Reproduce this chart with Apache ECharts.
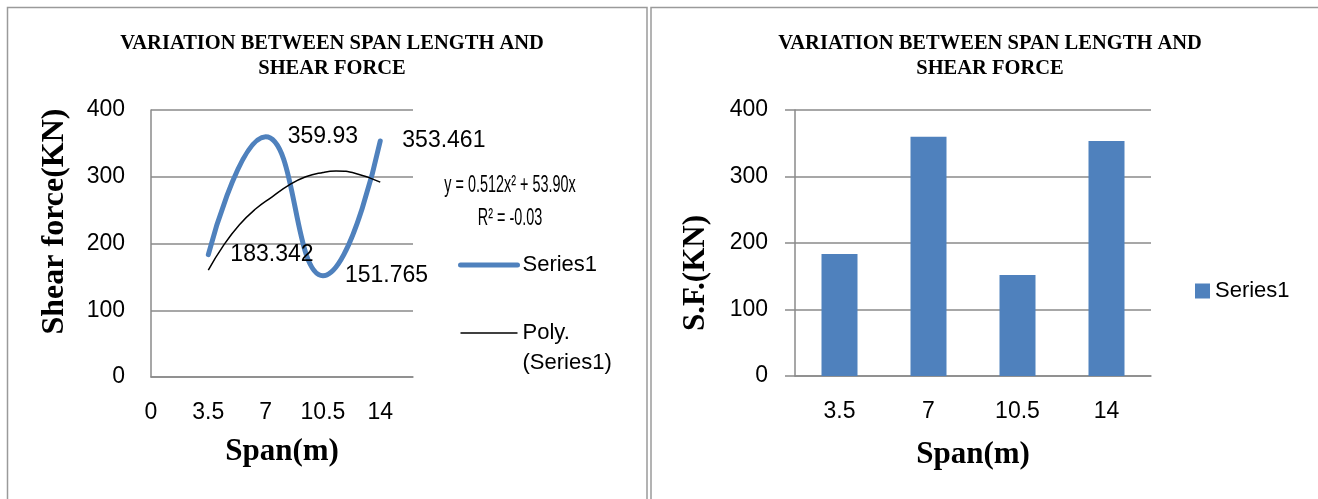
<!DOCTYPE html>
<html>
<head>
<meta charset="utf-8">
<script src="https://cdn.jsdelivr.net/npm/echarts@6/dist/echarts.min.js"></script>
<style>
html,body{margin:0;padding:0;background:#fff;}
#main{width:1318px;height:499px;}
</style>
</head>
<body>
<div id="main"></div>
<script>
// ---- data ----
const spanCategories = ['3.5', '7', '10.5', '14'];
const spanValues = [3.5, 7, 10.5, 14];
const shearForce = [183.342, 359.93, 151.765, 353.461];
// polynomial trendline (x, y)
const trendX = [3.5, 4.4, 5.4, 6.4, 7.4, 8.4, 9.45, 10.5, 11.3, 12.5, 14];
const trendY = [160, 196, 228, 252, 270, 287, 300, 306.5, 308.5, 305, 292];
const yTicks = [0, 100, 200, 300, 400];
const xTicksLeft = [0, 3.5, 7, 10.5, 14];
const titleText = 'VARIATION BETWEEN SPAN LENGTH AND\nSHEAR FORCE';
const equationText = 'y = 0.512x\u00b2 + 53.90x';
const r2Text = 'R\u00b2 = -0.03';

const SERIF = "'Liberation Serif','Times New Roman',serif";
const SANS = "'Liberation Sans',Arial,sans-serif";
const GRID = '#8a8a8a';
const BLUE = '#4f81bd';

const lineData = spanValues.map((x, i) => [x, shearForce[i]]);
const trendData = trendX.map((x, i) => [x, trendY[i]]);

const chart = echarts.init(document.getElementById('main'), null, {renderer: 'canvas'});

const option = {
  backgroundColor: '#fff',
  animation: false,
  title: [
    {text: titleText, left: 327, top: 26, textAlign: 'center',
     textStyle: {fontFamily: SERIF, fontWeight: 'bold', fontSize: 20.5, lineHeight: 25, color: '#000'}},
    {text: titleText, left: 985, top: 26, textAlign: 'center',
     textStyle: {fontFamily: SERIF, fontWeight: 'bold', fontSize: 20.5, lineHeight: 25, color: '#000'}}
  ],
  grid: [
    {left: 151, top: 110, width: 262, height: 267, containLabel: false},
    {left: 795, top: 110, width: 356, height: 266, containLabel: false}
  ],
  legend: [
    {
      orient: 'vertical', left: 458, top: 250, itemGap: 8, padding: 0,
      itemWidth: 57, itemHeight: 10,
      itemStyle: {opacity: 0},
      data: [
        {name: 'Series1', lineStyle: {width: 5, color: BLUE}},
        {name: 'Poly. (Series1)', lineStyle: {width: 1.5, color: '#000'}}
      ],
      formatter: function (n) { return n === 'Series1' ? 'Series1' : '\u00a0\nPoly.\n(Series1)'; },
      textStyle: {fontFamily: SANS, fontSize: 22, lineHeight: 30, color: '#000'}
    },
    {
      orient: 'vertical', left: 1195, top: 276, padding: 0,
      itemWidth: 15, itemHeight: 15, icon: 'rect',
      data: [{name: 'Series1 '}],
      formatter: function () { return 'Series1'; },
      textStyle: {fontFamily: SANS, fontSize: 22, lineHeight: 30, color: '#000'}
    }
  ],
  xAxis: [
    {
      type: 'value', gridIndex: 0, min: 0, max: 16, interval: 3.5,
      axisLine: {show: true, lineStyle: {color: GRID, width: 1.5}},
      axisTick: {show: false},
      splitLine: {show: false},
      axisLabel: {showMaxLabel: false, margin: 24, fontFamily: SANS, fontSize: 23, color: '#000',
        formatter: function (v) { return xTicksLeft.indexOf(v) >= 0 ? String(v) : ''; }}
    },
    {
      type: 'category', gridIndex: 1, data: spanCategories,
      axisLine: {show: true, lineStyle: {color: GRID, width: 1.5}},
      axisTick: {show: false},
      axisLabel: {margin: 24, fontFamily: SANS, fontSize: 23, color: '#000'}
    }
  ],
  yAxis: [
    {
      type: 'value', gridIndex: 0, min: yTicks[0], max: yTicks[yTicks.length - 1], interval: 100,
      axisLine: {show: true, lineStyle: {color: GRID, width: 1.5}},
      axisTick: {show: false},
      splitLine: {show: true, lineStyle: {color: GRID, width: 1.5}},
      axisLabel: {margin: 26, fontFamily: SANS, fontSize: 23, color: '#000'}
    },
    {
      type: 'value', gridIndex: 1, min: yTicks[0], max: yTicks[yTicks.length - 1], interval: 100,
      axisLine: {show: true, lineStyle: {color: GRID, width: 1.5}},
      axisTick: {show: true, length: 10, lineStyle: {color: GRID, width: 1.5}},
      splitLine: {show: true, lineStyle: {color: GRID, width: 1.5}},
      axisLabel: {margin: 27, fontFamily: SANS, fontSize: 23, color: '#000'}
    }
  ],
  series: [
    {
      name: 'Series1', type: 'line', xAxisIndex: 0, yAxisIndex: 0,
      data: lineData, smooth: 0.5, symbol: 'circle', symbolSize: 0.1, showSymbol: true,
      lineStyle: {color: BLUE, width: 5, cap: 'round'},
      itemStyle: {color: BLUE},
      label: {show: true, position: 'right', distance: 22, fontFamily: SANS, fontSize: 23, color: '#000',
        formatter: function (p) { return String(p.value[1]); }},
      z: 3
    },
    {
      name: 'Poly. (Series1)', type: 'line', xAxisIndex: 0, yAxisIndex: 0,
      data: trendData, smooth: 0.5, symbol: 'none', showSymbol: false,
      lineStyle: {color: '#000', width: 1.5},
      itemStyle: {color: '#000'},
      z: 4
    },
    {
      name: 'Series1 ', type: 'bar', xAxisIndex: 1, yAxisIndex: 1,
      data: shearForce, barWidth: 36,
      itemStyle: {color: BLUE}
    }
  ],
  graphic: [
    {type: 'rect', shape: {x: 7.5, y: 7.5, width: 639.5, height: 520},
     style: {fill: 'none', stroke: '#9a9a9a', lineWidth: 1.5}, silent: true, z: -1},
    {type: 'rect', shape: {x: 651, y: 7.5, width: 700, height: 520},
     style: {fill: 'none', stroke: '#9a9a9a', lineWidth: 1.5}, silent: true, z: -1},
    {type: 'text', x: 55, y: 221.5, rotation: Math.PI / 2,
     style: {text: 'Shear force(KN)', fontFamily: SERIF, fontWeight: 'bold', fontSize: 32, fill: '#000',
             textAlign: 'center', textVerticalAlign: 'middle'}},
    {type: 'text', x: 696, y: 273, rotation: Math.PI / 2,
     style: {text: 'S.F.(KN)', fontFamily: SERIF, fontWeight: 'bold', fontSize: 31, fill: '#000',
             textAlign: 'center', textVerticalAlign: 'middle'}},
    {type: 'text', x: 282, y: 452,
     style: {text: 'Span(m)', fontFamily: SERIF, fontWeight: 'bold', fontSize: 31, fill: '#000',
             textAlign: 'center', textVerticalAlign: 'middle'}},
    {type: 'text', x: 973, y: 455,
     style: {text: 'Span(m)', fontFamily: SERIF, fontWeight: 'bold', fontSize: 31, fill: '#000',
             textAlign: 'center', textVerticalAlign: 'middle'}},
    {type: 'text', x: 510, y: 185, scaleX: 0.6,
     style: {text: equationText, fontFamily: SANS, fontSize: 24, fill: '#000',
             textAlign: 'center', textVerticalAlign: 'middle'}},
    {type: 'text', x: 510, y: 218, scaleX: 0.6,
     style: {text: r2Text, fontFamily: SANS, fontSize: 24, fill: '#000',
             textAlign: 'center', textVerticalAlign: 'middle'}}
  ]
};
chart.setOption(option);
</script>
</body>
</html>
